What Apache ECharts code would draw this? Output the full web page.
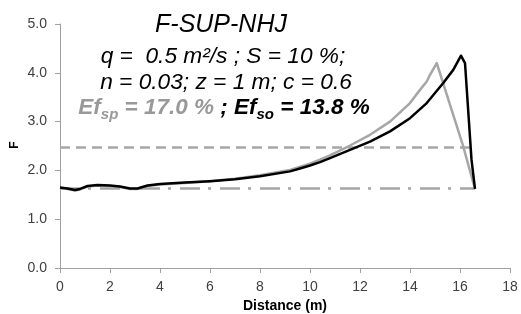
<!DOCTYPE html>
<html>
<head>
<meta charset="utf-8">
<script src="https://cdn.jsdelivr.net/npm/echarts@6/dist/echarts.min.js"></script>
<style>
html,body{margin:0;padding:0;background:#fff;}
#c{width:521px;height:314px;}
</style>
</head>
<body>
<div id="c"></div>
<script>
// Distance (m) and F values
const soX = [0, 0.3, 0.6, 0.8, 1.1, 1.5, 2.0, 2.4, 2.8, 3.1, 3.5, 4, 5, 6, 7, 8, 9.2, 9.6, 10.0, 10.4, 10.8, 11.6, 12.4, 13.2, 14.0, 14.67, 15.33, 15.73, 16.04, 16.2, 16.46, 16.6];
const soF = [1.65, 1.63, 1.60, 1.62, 1.68, 1.70, 1.69, 1.67, 1.63, 1.63, 1.69, 1.72, 1.75, 1.78, 1.82, 1.88, 1.98, 2.04, 2.10, 2.17, 2.25, 2.42, 2.59, 2.80, 3.07, 3.38, 3.79, 4.06, 4.35, 4.20, 2.22, 1.62];
const spX = [0, 0.3, 0.6, 0.8, 1.1, 1.5, 2.0, 2.4, 2.8, 3.1, 3.5, 4, 5, 6, 7, 8, 9.2, 10, 10.4, 10.8, 11.6, 12.4, 13.2, 14.0, 14.4, 14.67, 14.8, 15.07, 16.13, 16.6];
const spF = [1.64, 1.62, 1.59, 1.61, 1.67, 1.69, 1.68, 1.66, 1.62, 1.62, 1.68, 1.71, 1.74, 1.78, 1.83, 1.90, 2.01, 2.14, 2.22, 2.31, 2.51, 2.73, 3.00, 3.38, 3.65, 3.82, 3.96, 4.20, 2.49, 1.62];
const dashX = [0, 16.47];
const dashF = [2.47, 2.47];
const dotX = [0, 16.6];
const dotF = [1.63, 1.63];
const xTicks = [0, 2, 4, 6, 8, 10, 12, 14, 16, 18];
const yTicks = ['0.0', '1.0', '2.0', '3.0', '4.0', '5.0'];

const pairs = (xs, ys) => xs.map((x, i) => [x, ys[i]]);
const chart = echarts.init(document.getElementById('c'));
const axisCol = '#a0a0a0';
const labCol = '#404040';
const F = '"Liberation Sans"';
const rs = (size, col) => ({fontFamily: 'Liberation Sans', fontStyle: 'italic', fontWeight: 'bold', fontSize: size, fill: col, color: col, lineHeight: 28});
chart.setOption({
  animation: false,
  grid: {left: 60, right: 11, top: 24, bottom: 46, containLabel: false, outerBoundsMode: 'none'},
  xAxis: {
    type: 'value', min: 0, max: 18, interval: 2,
    name: 'Distance (m)', nameLocation: 'middle', nameGap: 30,
    nameTextStyle: {fontFamily: 'Liberation Sans', fontWeight: 'bold', fontSize: 14, color: '#000'},
    axisLine: {show: true, lineStyle: {color: axisCol, width: 1}},
    axisTick: {show: true, length: 5, lineStyle: {color: axisCol}},
    axisLabel: {fontFamily: 'Liberation Sans', fontSize: 14, color: labCol, margin: 12,
      formatter: v => xTicks.includes(v) ? String(v) : ''},
    splitLine: {show: false}
  },
  yAxis: {
    type: 'value', min: 0, max: 5, interval: 1,
    axisLine: {show: true, lineStyle: {color: axisCol, width: 1}},
    axisTick: {show: true, length: 5, lineStyle: {color: axisCol}},
    axisLabel: {fontFamily: 'Liberation Sans', fontSize: 14, color: labCol, margin: 13,
      formatter: v => yTicks[Math.round(v)]},
    splitLine: {show: false}
  },
  graphic: [
    {type: 'text', x: 15, y: 145, rotation: Math.PI / 2,
      style: {text: 'F', font: 'bold 12px ' + F, fill: '#000', align: 'center', verticalAlign: 'middle'}},
    {type: 'text', x: 221, y: 25,
      style: {text: 'F-SUP-NHJ', font: 'italic 25px ' + F, fill: '#000', align: 'center', verticalAlign: 'middle'}},
    {type: 'text', x: 223, y: 57,
      style: {text: 'q =  0.5 m²/s ; S = 10 %;', font: 'italic 22.7px ' + F, fill: '#000', align: 'center', verticalAlign: 'middle'}},
    {type: 'text', x: 226, y: 83,
      style: {text: 'n = 0.03; z = 1 m; c = 0.6', font: 'italic 22.7px ' + F, fill: '#000', align: 'center', verticalAlign: 'middle'}},
    {type: 'text', x: 224, y: 108,
      style: {
        text: '{g|Ef}{gs|sp}{g| = 17.0 %}{b| ; Ef}{bs|so}{b| = 13.8 %}',
        align: 'center', verticalAlign: 'middle',
        rich: {
          g: Object.assign(rs(22.5, '#999999'), {verticalAlign: 'middle'}),
          gs: Object.assign(rs(15, '#999999'), {padding: [10, 0, 0, 0], verticalAlign: 'bottom'}),
          b: Object.assign(rs(22.5, '#000000'), {verticalAlign: 'middle'}),
          bs: Object.assign(rs(15, '#000000'), {padding: [10, 0, 0, 0], verticalAlign: 'bottom'})
        }
      }}
  ],
  series: [
    {type: 'line', data: pairs(dashX, dashF), symbol: 'none', silent: true,
      lineStyle: {color: '#a6a6a6', width: 2.5, type: [10, 6]}},
    {type: 'line', data: pairs(dotX, dotF), symbol: 'none', silent: true,
      lineStyle: {color: '#a6a6a6', width: 2.5, type: [20, 8, 3, 9]}},
    {type: 'line', data: pairs(spX, spF), symbol: 'none',
      lineStyle: {color: '#a6a6a6', width: 2.5, join: 'round'}},
    {type: 'line', data: pairs(soX, soF), symbol: 'none',
      lineStyle: {color: '#000', width: 2.5, join: 'round'}}
  ]
});
</script>
</body>
</html>
